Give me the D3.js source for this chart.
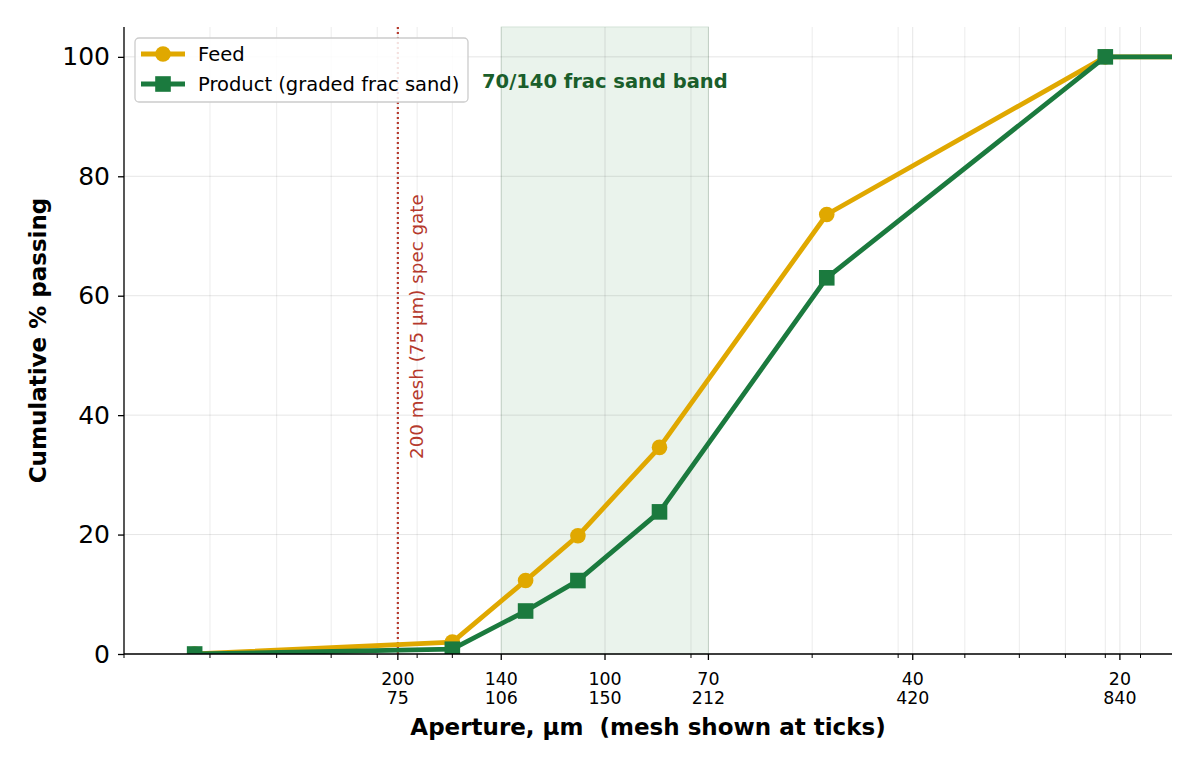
<!DOCTYPE html>
<html>
<head>
<meta charset="utf-8">
<script src="https://cdn.jsdelivr.net/npm/d3@7"></script>
<style>
  body { margin: 0; background: #fff; }
  text { font-family: "DejaVu Sans", sans-serif; }
</style>
</head>
<body>
<div id="chart"></div>
<script>
const width = 1200;
const height = 766;
const margin = { top: 27, right: 28, bottom: 112, left: 124 };

// sieve apertures (µm) and cumulative % passing
const apertures = [38, 90, 115, 137, 180, 315, 800, 1180];
const feedPassing = [0, 2.0, 12.3, 19.8, 34.6, 73.6, 100, 100];
const productPassing = [0, 0.8, 7.2, 12.3, 23.8, 63.0, 100, 100];

// labelled ticks: aperture and mesh number
const tickApertures = [75, 106, 150, 212, 420, 840];
const tickMesh = [200, 140, 100, 70, 40, 20];
const minorApertures = [30, 40, 50, 60, 70, 80, 90, 200, 300, 400, 500, 600, 700, 800, 900];
const yTicks = [0, 20, 40, 60, 80, 100];

const bandRange = [106, 212];
const specGate = 75;

const feedColor = "#e0a800";
const productColor = "#1b7a3e";
const gateColor = "#b5392c";

const svg = d3.select("#chart")
    .append("svg")
    .attr("width", width)
    .attr("height", height);

const x = d3.scaleLog()
    .domain([30, 1000])
    .range([margin.left, width - margin.right]);
const y = d3.scaleLinear()
    .domain([0, 105])
    .range([height - margin.bottom, margin.top]);

svg.append("defs").append("clipPath")
    .attr("id", "plot-clip")
    .append("rect")
    .attr("x", margin.left)
    .attr("y", margin.top)
    .attr("width", width - margin.left - margin.right)
    .attr("height", height - margin.top - margin.bottom);

// 70/140 band
svg.append("rect")
    .attr("x", x(bandRange[0]))
    .attr("y", margin.top)
    .attr("width", x(bandRange[1]) - x(bandRange[0]))
    .attr("height", y(0) - margin.top)
    .attr("fill", "#eaf3ec")
    .attr("stroke", "#d3e3d7")
    .attr("stroke-width", 1);

// grid
const grid = svg.append("g");
grid.selectAll(".vminor")
    .data(minorApertures)
    .enter().append("line")
    .attr("x1", d => x(d)).attr("x2", d => x(d))
    .attr("y1", margin.top).attr("y2", y(0))
    .attr("stroke", "#000").attr("stroke-opacity", 0.08).attr("stroke-width", 1);
grid.selectAll(".vmajor")
    .data(tickApertures)
    .enter().append("line")
    .attr("x1", d => x(d)).attr("x2", d => x(d))
    .attr("y1", margin.top).attr("y2", y(0))
    .attr("stroke", "#000").attr("stroke-opacity", 0.1).attr("stroke-width", 1);
grid.selectAll(".hgrid")
    .data(yTicks)
    .enter().append("line")
    .attr("x1", margin.left).attr("x2", width - margin.right)
    .attr("y1", d => y(d)).attr("y2", d => y(d))
    .attr("stroke", "#000").attr("stroke-opacity", 0.1).attr("stroke-width", 1);

// spec gate
svg.append("line")
    .attr("x1", x(specGate)).attr("x2", x(specGate))
    .attr("y1", margin.top).attr("y2", y(0))
    .attr("stroke", gateColor)
    .attr("stroke-width", 2.2)
    .attr("stroke-dasharray", "2,3");

svg.append("text")
    .attr("transform", `translate(${x(specGate) + 25},459) rotate(-90)`)
    .attr("text-anchor", "start")
    .style("font-size", "18.3px")
    .style("fill", gateColor)
    .text("200 mesh (75 µm) spec gate");

svg.append("text")
    .attr("x", 482)
    .attr("y", 88)
    .style("font-size", "19.5px")
    .style("font-weight", "bold")
    .style("fill", "#1a5e2b")
    .text("70/140 frac sand band");

// series
const series = [
    { name: "Feed", values: feedPassing, color: feedColor, marker: "circle" },
    { name: "Product (graded frac sand)", values: productPassing, color: productColor, marker: "square" }
];

const line = d3.line()
    .x((d, i) => x(apertures[i]))
    .y(d => y(d));

const plot = svg.append("g").attr("clip-path", "url(#plot-clip)");

series.forEach(s => {
    plot.append("path")
        .datum(s.values)
        .attr("fill", "none")
        .attr("stroke", s.color)
        .attr("stroke-width", 4.8)
        .attr("stroke-linejoin", "round")
        .attr("d", line);

    const pts = plot.selectAll(null)
        .data(s.values)
        .enter();
    if (s.marker === "circle") {
        pts.append("circle")
            .attr("cx", (d, i) => x(apertures[i]))
            .attr("cy", d => y(d))
            .attr("r", 7.8)
            .attr("fill", s.color);
    } else {
        pts.append("rect")
            .attr("x", (d, i) => x(apertures[i]) - 7.8)
            .attr("y", d => y(d) - 7.8)
            .attr("width", 15.6)
            .attr("height", 15.6)
            .attr("fill", s.color);
    }
});

// axes
const xAxis = svg.append("g")
    .attr("transform", `translate(0,${y(0)})`);
xAxis.append("line")
    .attr("x1", margin.left).attr("x2", width - margin.right)
    .attr("stroke", "#000").attr("stroke-width", 1.3);
xAxis.selectAll(".minor")
    .data(minorApertures)
    .enter().append("line")
    .attr("x1", d => x(d)).attr("x2", d => x(d))
    .attr("y1", 0).attr("y2", 4)
    .attr("stroke", "#000").attr("stroke-width", 1);
const major = xAxis.selectAll(".major")
    .data(tickApertures)
    .enter().append("g")
    .attr("transform", d => `translate(${x(d)},0)`);
major.append("line")
    .attr("y2", 6)
    .attr("stroke", "#000").attr("stroke-width", 1.3);
major.append("text")
    .attr("y", 31)
    .attr("text-anchor", "middle")
    .style("font-size", "17.4px")
    .text((d, i) => tickMesh[i]);
major.append("text")
    .attr("y", 50)
    .attr("text-anchor", "middle")
    .style("font-size", "17.4px")
    .text(d => d);

const yAxis = svg.append("g")
    .attr("transform", `translate(${margin.left},0)`)
    .call(d3.axisLeft(y).tickValues(yTicks).tickSize(6).tickPadding(8));
yAxis.select(".domain")
    .attr("d", `M0,${y(0)}V${margin.top}`)
    .attr("stroke-width", 1.3);
yAxis.selectAll(".tick line").attr("stroke-width", 1.3);
yAxis.selectAll(".tick text")
    .style("font-size", "25px")
    .style("font-family", "DejaVu Sans, sans-serif")
    .attr("fill", "#000");

svg.append("text")
    .attr("x", 648)
    .attr("y", 735)
    .attr("text-anchor", "middle")
    .style("font-size", "23px")
    .style("font-weight", "bold")
    .style("white-space", "pre")
    .text("Aperture, µm  (mesh shown at ticks)");

svg.append("text")
    .attr("transform", `translate(46,${(y(0) + y(105)) / 2}) rotate(-90)`)
    .attr("text-anchor", "middle")
    .style("font-size", "23px")
    .style("font-weight", "bold")
    .text("Cumulative % passing");

// legend
const legend = svg.append("g").attr("transform", "translate(135,38)");
legend.append("rect")
    .attr("width", 333)
    .attr("height", 64)
    .attr("rx", 4)
    .attr("fill", "#fff")
    .attr("fill-opacity", 0.85)
    .attr("stroke", "#cccccc")
    .attr("stroke-width", 1.3);
series.forEach((s, i) => {
    const row = legend.append("g").attr("transform", `translate(0,${16 + i * 30})`);
    row.append("line")
        .attr("x1", 6).attr("x2", 50)
        .attr("stroke", s.color).attr("stroke-width", 4.8);
    if (s.marker === "circle") {
        row.append("circle").attr("cx", 28).attr("r", 7.8).attr("fill", s.color);
    } else {
        row.append("rect").attr("x", 20.2).attr("y", -7.8).attr("width", 15.6).attr("height", 15.6).attr("fill", s.color);
    }
    row.append("text")
        .attr("x", 63)
        .attr("dy", "0.35em")
        .style("font-size", "19.5px")
        .text(s.name);
});
</script>
</body>
</html>
